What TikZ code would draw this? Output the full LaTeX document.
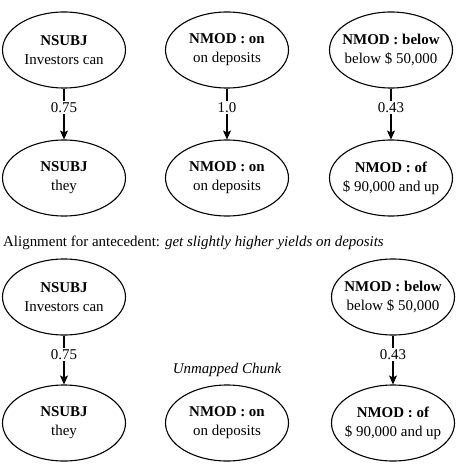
\documentclass[tikz,border=0pt]{standalone}
\usepackage{fontspec}
\setmainfont{Liberation Serif}
\usetikzlibrary{shapes.geometric,arrows.meta}
\tikzset{
  chunk/.style={draw,ellipse,line width=1.1bp,minimum width=123bp,minimum height=76bp,
    align=center,inner xsep=-10bp,inner ysep=0pt,font=\fontsize{15}{19}\selectfont},
  maps/.style={-{Stealth[length=9bp,width=8bp,inset=2bp]},line width=1.1bp},
  score/.style={fill=white,inner sep=1.5bp,pos=0.38,font=\fontsize{15}{18}\selectfont}
}
\begin{document}
\begin{tikzpicture}[x=1bp,y=-1bp]
  \useasboundingbox (0,0) rectangle (458,464);
  % anaphor chunks mapped onto antecedent chunks
  \node[chunk] (subjA) at (64,50) {\textbf{NSUBJ}\\Investors can};
  \node[chunk] (onA) at (227,50) {\textbf{NMOD : on}\\on deposits};
  \node[chunk] (belowA) at (391,50) {\textbf{NMOD : below}\\below \$ 50,000};
  \node[chunk] (subjB) at (64,178) {\textbf{NSUBJ}\\they};
  \node[chunk] (onB) at (227,178) {\textbf{NMOD : on}\\on deposits};
  \node[chunk] (ofB) at (391,178) {\textbf{NMOD : of}\\\$ 90,000 and up};
  \draw[maps] (subjA) -- node[score] {0.75} (subjB);
  \draw[maps] (onA) -- node[score] {1.0} (onB);
  \draw[maps] (belowA) -- node[score] {0.43} (ofB);
  \node[anchor=west,inner sep=0pt,font=\fontsize{15}{18}\selectfont] (title) at (3,243)
    {Alignment for antecedent: \textit{get slightly higher yields on deposits}};
  \begin{scope}[yshift=-258bp]
  \node[chunk] (subjC) at (64,39) {\textbf{NSUBJ}\\Investors can};
  \node[chunk] (belowC) at (393,39) {\textbf{NMOD : below}\\below \$ 50,000};
  \node[chunk] (subjD) at (64,165) {\textbf{NSUBJ}\\they};
  \node[chunk] (onD) at (227,165) {\textbf{NMOD : on}\\on deposits};
  \node[chunk] (ofD) at (393,165) {\textbf{NMOD : of}\\\$ 90,000 and up};
  \node[font=\fontsize{15}{18}\selectfont\itshape] (unmapped) at (227,112) {Unmapped Chunk};
  \draw[maps] (subjC) -- node[score] {0.75} (subjD);
  \draw[maps] (belowC) -- node[score] {0.43} (ofD);
  \end{scope}
\end{tikzpicture}
\end{document}
